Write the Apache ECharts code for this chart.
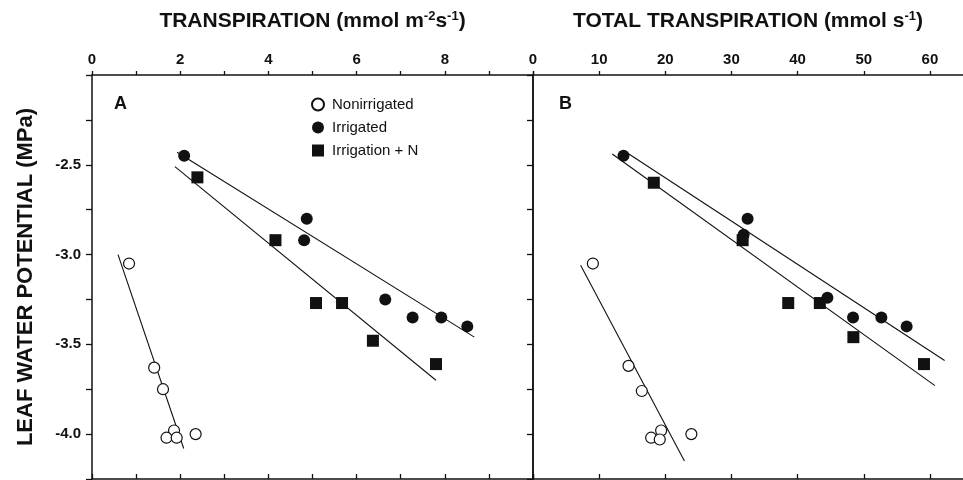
<!DOCTYPE html>
<html>
<head>
<meta charset="utf-8">
<script src="https://cdn.jsdelivr.net/npm/echarts@6/dist/echarts.min.js"></script>
<style>html,body{margin:0;padding:0;background:#fff}#c{width:963px;height:480px}</style>
</head>
<body>
<div id="c"></div>
<script>
// ---- data ----
const seriesNames = ['Nonirrigated', 'Irrigated', 'Irrigation + N'];
// Panel A: transpiration (mmol m-2 s-1) vs leaf water potential (MPa)
const nonIrrA = [[0.84,-3.05],[1.41,-3.63],[1.61,-3.75],[1.86,-3.98],[1.69,-4.02],[1.92,-4.02],[2.35,-4.00]];
const irrA    = [[2.09,-2.45],[4.87,-2.80],[4.81,-2.92],[6.65,-3.25],[7.27,-3.35],[7.92,-3.35],[8.51,-3.40]];
const irrNA   = [[2.39,-2.57],[4.16,-2.92],[5.08,-3.27],[5.67,-3.27],[6.37,-3.48],[7.80,-3.61]];
// Panel B: total transpiration (mmol s-1) vs leaf water potential (MPa)
const nonIrrB = [[9.05,-3.05],[14.44,-3.62],[16.45,-3.76],[19.37,-3.98],[17.86,-4.02],[19.16,-4.03],[23.94,-4.00]];
const irrB    = [[13.68,-2.45],[32.44,-2.80],[31.84,-2.89],[44.5,-3.24],[48.38,-3.35],[52.66,-3.35],[56.48,-3.40]];
const irrNB   = [[18.26,-2.60],[31.69,-2.92],[38.58,-3.27],[43.36,-3.27],[48.43,-3.46],[59.1,-3.61]];
// fitted regression lines (end points)
const fitNonIrrA = [[0.59,-3.00],[2.08,-4.08]];
const fitIrrA    = [[1.93,-2.43],[8.67,-3.46]];
const fitIrrNA   = [[1.88,-2.51],[7.80,-3.70]];
const fitNonIrrB = [[7.2,-3.06],[22.89,-4.15]];
const fitIrrB    = [[14.09,-2.43],[62.22,-3.59]];
const fitIrrNB   = [[11.98,-2.44],[60.76,-3.73]];
// axis ranges / ticks / tick labels
const xRangeA = [0, 10], xTicksA = [0,1,2,3,4,5,6,7,8,9,10], xLabelsA = [0, 2, 4, 6, 8];
const xRangeB = [0, 65], xTicksB = [0,10,20,30,40,50,60], xLabelsB = [0, 10, 20, 30, 40, 50, 60];
const yRange = [-4.25, -2.0], yStep = 0.25, yLabels = [-2.5, -3.0, -3.5, -4.0];

const FONT = 'Liberation Sans, Arial, Helvetica, sans-serif';
const INK = '#111';
const chart = echarts.init(document.getElementById('c'), null, {renderer: 'canvas'});

function xAxisDef(grid, pos, range, ticks, labels, showLabels, name, nameRich) {
  return {
    type: 'value', gridIndex: grid, position: pos, min: range[0], max: range[1], interval: 1,
    axisLine: {show: true, onZero: false, lineStyle: {color: INK, width: 1.5}},
    axisTick: {show: true, inside: pos === 'bottom', length: pos === 'bottom' ? 5 : 4,
      customValues: ticks, lineStyle: {color: INK, width: 1.3}},
    axisLabel: {show: showLabels, margin: 8, color: INK, fontFamily: FONT, fontWeight: 'bold', fontSize: 15,
      customValues: labels, formatter: v => String(v)},
    splitLine: {show: false},
    name: name || '', nameLocation: 'middle', nameGap: 42,
    nameTextStyle: {color: INK, fontFamily: FONT, fontWeight: 'bold', fontSize: 21, rich: nameRich}
  };
}
const rich = {
  n: {fontFamily: FONT, fontWeight: 'bold', fontSize: 21, color: INK, lineHeight: 23},
  s: {fontFamily: FONT, fontWeight: 'bold', fontSize: 13, color: INK, lineHeight: 23, verticalAlign: 'top'}
};
function yAxisDef(grid, pos, showLabels, tickOn, inside, name) {
  return {
    type: 'value', gridIndex: grid, position: pos, min: yRange[0], max: yRange[1], interval: yStep,
    axisLine: {show: true, onZero: false, lineStyle: {color: INK, width: 1.5}},
    axisTick: {show: tickOn, inside: inside, length: 6, lineStyle: {color: INK, width: 1.3}},
    axisLabel: {show: showLabels, margin: 11, color: INK, fontFamily: FONT, fontWeight: 'bold', fontSize: 15,
      formatter: v => yLabels.some(l => Math.abs(l - v) < 1e-6) ? v.toFixed(1) : ''},
    splitLine: {show: false},
    name: name || '', nameLocation: 'middle', nameGap: 55, nameRotate: 90,
    nameTextStyle: {color: INK, fontFamily: FONT, fontWeight: 'bold', fontSize: 22}
  };
}

function scatter(name, data, xi, yi, kind) {
  const sym = kind === 'square' ? 'rect' : 'circle';
  const open = kind === 'open';
  return {
    type: 'scatter', name: name, xAxisIndex: xi, yAxisIndex: yi, data: data,
    symbol: sym, symbolSize: open ? 11 : 12, z: 5,
    itemStyle: {color: open ? '#fff' : INK, borderColor: INK, borderWidth: open ? 1.2 : 0, opacity: 1}
  };
}
function fit(data, xi, yi) {
  return {type: 'line', name: 'fit', xAxisIndex: xi, yAxisIndex: yi, data: data, symbol: 'none',
    silent: true, z: 3, lineStyle: {color: INK, width: 1.1}};
}

const option = {
  backgroundColor: '#fff',
  animation: false,
  grid: [
    {left: 92, top: 75, width: 441, height: 404},
    {left: 533, top: 75, width: 431, height: 404}
  ],
  xAxis: [
    xAxisDef(0, 'top', xRangeA, xTicksA, xLabelsA, true, '{n|TRANSPIRATION (mmol m}{s|-2}{n|s}{s|-1}{n|)}', rich),
    xAxisDef(0, 'bottom', xRangeA, xTicksA, xLabelsA, false),
    xAxisDef(1, 'top', xRangeB, xTicksB, xLabelsB, true, '{n|TOTAL TRANSPIRATION (mmol s}{s|-1}{n|)}', rich),
    xAxisDef(1, 'bottom', xRangeB, xTicksB, xLabelsB, false)
  ],
  yAxis: [
    yAxisDef(0, 'left', true, true, false, 'LEAF WATER POTENTIAL (MPa)'),
    yAxisDef(0, 'right', false, true, true),
    yAxisDef(1, 'left', false, false, false)
  ],
  legend: {
    data: seriesNames, orient: 'vertical', left: 306, top: 92, itemWidth: 12, itemHeight: 12, itemGap: 8,
    selectedMode: false,
    textStyle: {color: INK, fontFamily: FONT, fontSize: 15, padding: [0, 0, 0, 3]}
  },
  graphic: [
    {type: 'text', left: 114, top: 95, style: {text: 'A', font: 'bold 18px ' + FONT, fill: INK}},
    {type: 'text', left: 559, top: 95, style: {text: 'B', font: 'bold 18px ' + FONT, fill: INK}}
  ],
  series: [
    fit(fitNonIrrA, 0, 0), fit(fitIrrA, 0, 0), fit(fitIrrNA, 0, 0),
    fit(fitNonIrrB, 2, 2), fit(fitIrrB, 2, 2), fit(fitIrrNB, 2, 2),
    scatter(seriesNames[0], nonIrrA, 0, 0, 'open'),
    scatter(seriesNames[1], irrA, 0, 0, 'filled'),
    scatter(seriesNames[2], irrNA, 0, 0, 'square'),
    scatter(seriesNames[0], nonIrrB, 2, 2, 'open'),
    scatter(seriesNames[1], irrB, 2, 2, 'filled'),
    scatter(seriesNames[2], irrNB, 2, 2, 'square')
  ]
};
chart.setOption(option);
</script>
</body>
</html>
